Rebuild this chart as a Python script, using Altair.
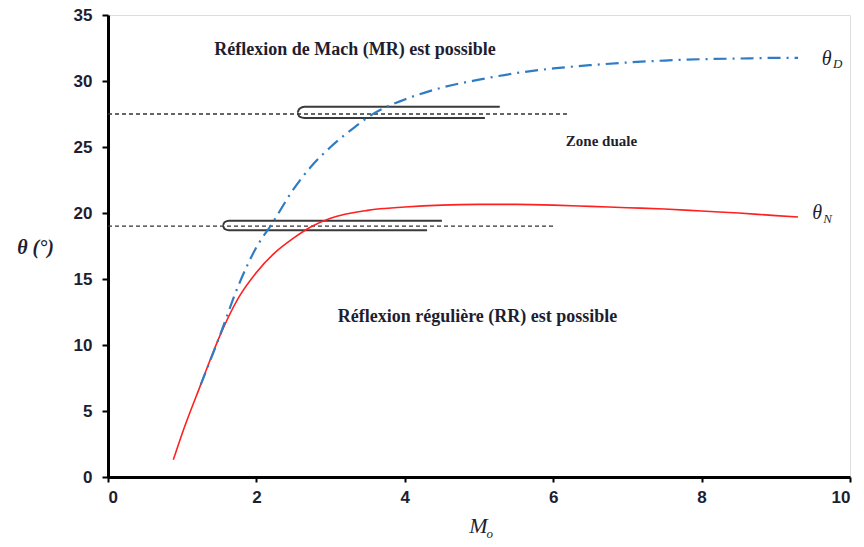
import altair as alt
import pandas as pd

# theta_D curve (blue dash-dot)
md = [1.25, 1.5, 1.75, 2.0, 2.2, 2.5, 2.75, 3.0, 3.3, 3.6, 4.0, 4.5, 5.0, 5.5, 6.0, 6.5, 7.0, 7.5, 8.0, 8.5, 9.0, 9.3]
td = [7.0, 10.6, 14.4, 17.4, 19.1, 21.8, 23.6, 25.0, 26.4, 27.6, 28.6, 29.5, 30.1, 30.6, 30.95, 31.2, 31.4, 31.55, 31.65, 31.7, 31.75, 31.75]

# theta_N curve (red)
mn = [0.88, 1.0, 1.25, 1.5, 1.75, 2.0, 2.25, 2.5, 2.75, 3.0, 3.5, 4.0, 4.5, 5.0, 5.5, 6.0, 6.5, 7.0, 7.5, 8.0, 8.5, 9.0, 9.3]
tn = [1.3, 3.3, 7.0, 10.6, 13.5, 15.5, 17.0, 18.1, 19.0, 19.6, 20.2, 20.45, 20.6, 20.65, 20.65, 20.6, 20.5, 20.4, 20.3, 20.15, 20.0, 19.8, 19.7]

# dashed horizontal guide lines
guide_y = [27.5, 19.0]
guide_x_end = [6.2, 6.02]

# hysteresis loops (upper and lower)
loop_id = ["u"] * 7 + ["l"] * 7
loop_m = [5.28, 2.65, 2.58, 2.55, 2.58, 2.65, 5.08,
          4.5, 1.63, 1.57, 1.545, 1.57, 1.63, 4.3]
loop_t = [28.05, 28.05, 27.9, 27.6, 27.3, 27.2, 27.2,
          19.42, 19.42, 19.3, 19.05, 18.8, 18.7, 18.7]

# annotations
ann_text = ["Réflexion de Mach (MR) est possible", "Réflexion régulière (RR) est possible"]
ann_m = [3.33, 4.98]
ann_t = [32.35, 12.1]

curves = pd.DataFrame({"M": md, "T": td})
curvn = pd.DataFrame({"M": mn, "T": tn})
guides = pd.DataFrame({"y": guide_y, "x0": [0, 0], "x1": guide_x_end})
loops = pd.DataFrame({"id": loop_id, "M": loop_m, "T": loop_t, "o": list(range(len(loop_m)))})
anns = pd.DataFrame({"text": ann_text, "M": ann_m, "T": ann_t})

SERIF = "Liberation Serif, Times New Roman, serif"
TXT = "#1e1e30"

xs = alt.Scale(domain=[0, 10], nice=False)
ys = alt.Scale(domain=[0, 35], nice=False)

xax = alt.Axis(values=[0, 2, 4, 6, 8, 10], format="d", title="M", grid=False,
               domainColor="black", domainWidth=3, tickColor="black", tickWidth=2, tickSize=5,
               labelFont="Liberation Sans Narrow, Liberation Sans, sans-serif", labelFontWeight="bold",
               labelFontSize=17, labelColor=TXT, labelPadding=7,
               titleFont=SERIF, titleFontStyle="italic", titleFontWeight="normal",
               titleFontSize=22, titleColor=TXT, titleX=370, titleY=48,
               titleBaseline="middle", titleAlign="center")
yax = alt.Axis(values=[0, 5, 10, 15, 20, 25, 30, 35], format="d", title="θ (°)", grid=False,
               domainColor="black", domainWidth=3, tickColor="black", tickWidth=2, tickSize=6,
               labelFont="Liberation Sans Narrow, Liberation Sans, sans-serif", labelFontWeight="bold",
               labelFontSize=17, labelColor=TXT, labelPadding=10,
               titleFont=SERIF, titleFontStyle="italic", titleFontWeight="bold",
               titleFontSize=20, titleColor=TXT, titleAngle=0, titleX=-73, titleY=232,
               titleBaseline="middle", titleAlign="center")

guide_layer = alt.Chart(guides).mark_rule(color="#333333", strokeDash=[4, 3], strokeWidth=1.3).encode(
    x=alt.X("x0:Q", scale=xs, axis=xax), x2="x1:Q", y=alt.Y("y:Q", scale=ys, axis=yax))

loop_layer = alt.Chart(loops).mark_line(color="#3a3a3a", strokeWidth=2, interpolate="monotone").encode(
    x=alt.X("M:Q", scale=xs), y=alt.Y("T:Q", scale=ys), detail="id:N", order="o:Q")

blue = alt.Chart(curves).mark_line(color="#2f7cc4", strokeWidth=2.2, strokeDash=[13, 6, 2, 6],
                                   interpolate="monotone").encode(
    x=alt.X("M:Q", scale=xs), y=alt.Y("T:Q", scale=ys))

red = alt.Chart(curvn).mark_line(color="#ff2020", strokeWidth=1.6, interpolate="monotone").encode(
    x=alt.X("M:Q", scale=xs), y=alt.Y("T:Q", scale=ys))

ann_layer = alt.Chart(anns).mark_text(font=SERIF, fontWeight="bold", fontSize=18,
                                      color=TXT).encode(
    x=alt.X("M:Q", scale=xs), y=alt.Y("T:Q", scale=ys), text="text:N")

zone = alt.Chart(pd.DataFrame({"text": ["Zone  duale"], "M": [6.65], "T": [25.45]})).mark_text(
    font=SERIF, fontWeight="bold", fontSize=15, color=TXT).encode(
    x=alt.X("M:Q", scale=xs), y=alt.Y("T:Q", scale=ys), text="text:N")

lab_main = alt.Chart(pd.DataFrame({"text": ["θ", "θ"], "M": [9.62, 9.49], "T": [31.7, 20.0]})).mark_text(
    font=SERIF, fontStyle="italic", fontSize=20, color=TXT, align="left").encode(
    x=alt.X("M:Q", scale=xs), y=alt.Y("T:Q", scale=ys), text="text:N")

lab_sub = alt.Chart(pd.DataFrame({"text": ["D", "N", "o"], "M": [9.77, 9.64, 5.1], "T": [31.3, 19.55, -4.3]})).mark_text(
    font=SERIF, fontStyle="italic", fontSize=13, color=TXT, align="left").encode(
    x=alt.X("M:Q", scale=xs), y=alt.Y("T:Q", scale=ys), text="text:N")

chart = alt.layer(guide_layer, loop_layer, red, blue, ann_layer, zone, lab_main, lab_sub).properties(
    width=742, height=462,
    autosize=alt.AutoSizeParams(type="none"),
    padding={"left": 108, "top": 15, "right": 14, "bottom": 70},
).configure_view(stroke=None).configure(background="white")

chart.save("out.html", embed_options={"renderer": "svg", "actions": False})
